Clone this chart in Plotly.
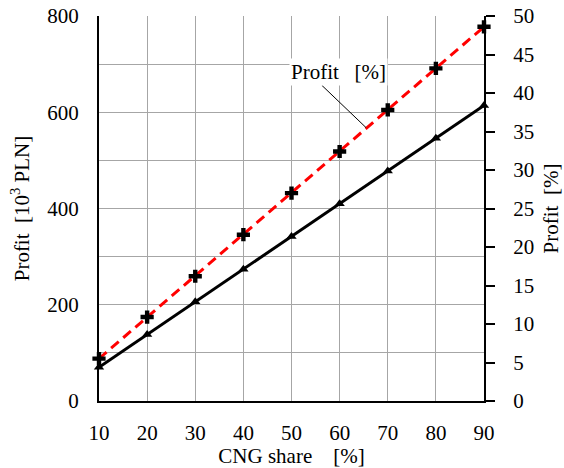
import plotly.graph_objects as go

cng_share = [10, 20, 30, 40, 50, 60, 70, 80, 90]
profit_pln = [70, 138, 206, 274, 342, 410, 478, 546, 614]
profit_pct = [5.5, 10.9, 16.2, 21.6, 27.0, 32.4, 37.8, 43.2, 48.6]

FONT = "Liberation Serif"
FS = 21
TF = dict(family=FONT, size=FS, color="black")
fig = go.Figure()

fig.add_trace(go.Scatter(
    x=cng_share, y=profit_pln, mode="lines+markers",
    line=dict(color="black", width=3),
    marker=dict(symbol="triangle-up", size=9, color="black"),
    showlegend=False, cliponaxis=False))

fig.add_trace(go.Scatter(
    x=cng_share, y=profit_pct, mode="lines", yaxis="y2",
    line=dict(color="#ff0000", width=3, dash="10px,6px"),
    showlegend=False, cliponaxis=False))
fig.add_trace(go.Scatter(
    x=cng_share, y=profit_pct, mode="markers", yaxis="y2",
    marker=dict(symbol="cross", size=11, color="black"),
    showlegend=False, cliponaxis=False))

fig.add_shape(type="line", xref="x", yref="y2",
              x0=56.3, y0=41.0, x1=65.5, y1=35.5,
              line=dict(color="black", width=1))
fig.add_annotation(x=59.7, y=42.7, xref="x", yref="y2",
                   text="Profit   [%]", showarrow=False,
                   bgcolor="white", font=TF)

fig.update_layout(
    width=564, height=468,
    margin=dict(l=99, r=80, t=16, b=67),
    plot_bgcolor="white", paper_bgcolor="white",
    font=TF,
    xaxis=dict(range=[10, 90], dtick=10, showgrid=True, gridcolor="#a6a6a6", gridwidth=1,
               showline=True, linecolor="black", linewidth=2, ticks="", zeroline=False,
               ticklabelstandoff=12, automargin=False, tickfont=TF,
               title=dict(text="CNG share    [%]", standoff=2, font=TF)),
    yaxis=dict(range=[0, 800], tickvals=[0, 200, 400, 600, 800], showgrid=True,
               gridcolor="#a6a6a6", gridwidth=1,
               minor=dict(dtick=100, showgrid=True, gridcolor="#a6a6a6", gridwidth=1),
               showline=True, linecolor="black", linewidth=2, ticks="", zeroline=False,
               ticklabelstandoff=14, automargin=False, tickfont=TF,
               title=dict(text="Profit  [10<sup>3</sup> PLN]", standoff=12, font=TF)),
    yaxis2=dict(range=[0, 50], dtick=5, overlaying="y", side="right", showgrid=False,
                showline=True, linecolor="black", linewidth=2, ticks="outside", ticklen=9,
                tickwidth=2, tickcolor="black", zeroline=False, ticklabelstandoff=14,
                automargin=False, tickfont=TF,
                title=dict(text="Profit  [%]", standoff=10, font=TF)),
)

fig.write_html("out.html", config={"displayModeBar": False},
               post_script="document.body.style.margin='0';document.body.style.overflow='hidden';")
